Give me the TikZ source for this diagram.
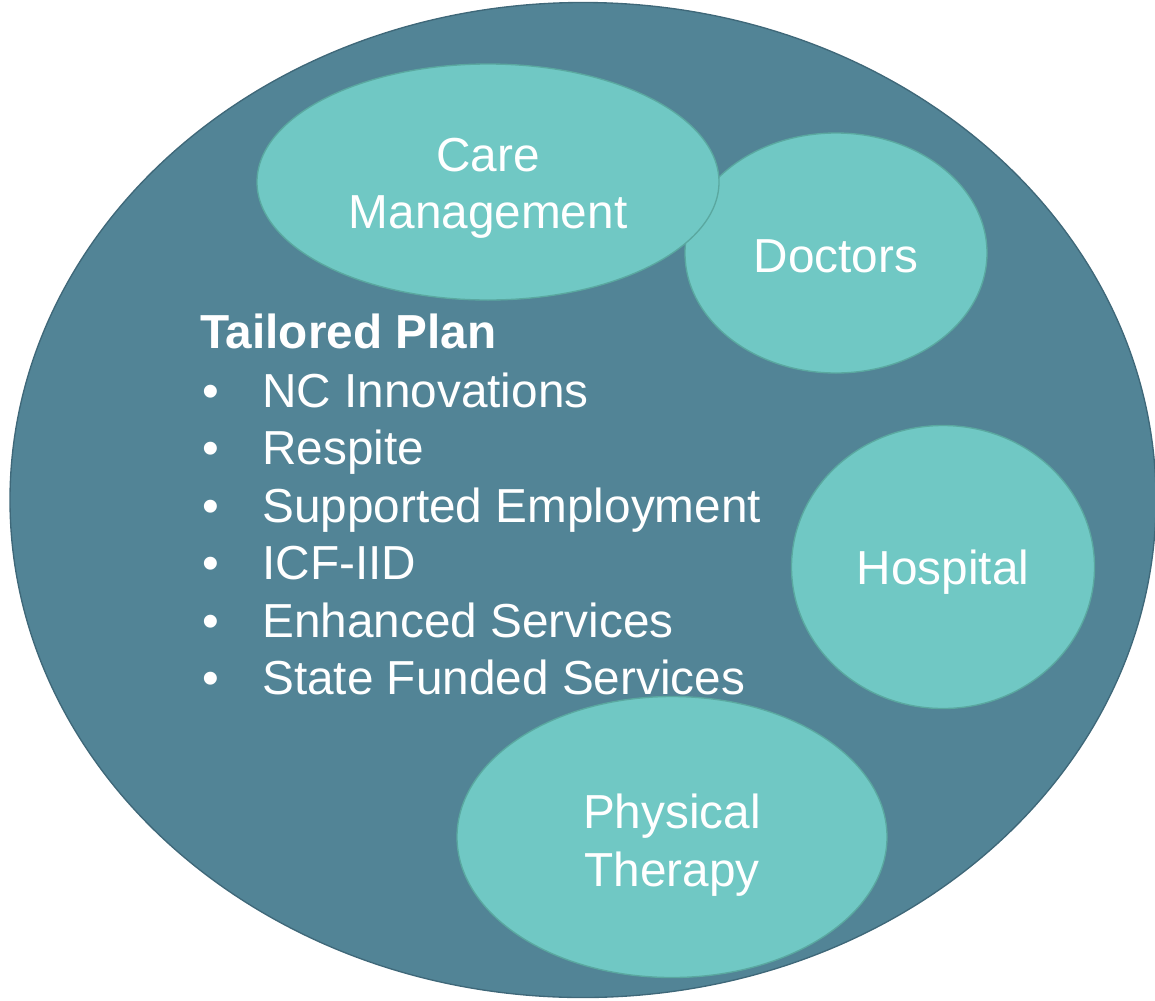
\documentclass[tikz,border=0pt]{standalone}
\usepackage{fontspec}
\setmainfont{Liberation Sans}
\usetikzlibrary{shapes.geometric}

\definecolor{planfill}{HTML}{528496}
\definecolor{plandraw}{HTML}{3F6879}
\definecolor{servicefill}{HTML}{70C8C4}
\definecolor{servicedraw}{HTML}{5AA8A0}

\begin{document}
\begin{tikzpicture} [x=0.75pt, y=-0.75pt,
		% define styles
		plannodestyle/.style={
			% The shape:
			ellipse,
			inner sep=0pt,
			% The border:
			line width=1pt,
			draw=plandraw,
			% The filling:
			fill=planfill
		},
		servicenodestyle/.style={
			% The shape:
			ellipse,
			inner sep=0pt,
			% The border:
			line width=1pt,
			draw=servicedraw,
			% The filling:
			fill=servicefill
		},
		servicetextstyle/.style={
			inner sep=0pt,
			text=white,
			align=center,
			font=\fontsize{35.8}{43}\selectfont
		},
		listnodestyle/.style={
			anchor=base west,
			inner sep=0pt,
			text=white,
			font=\fontsize{35.8}{43}\selectfont
		}]
		% end of style definition
		
		\useasboundingbox (0,0) rectangle (1155,1000);
		
		% draw nodes
		\node (iPlan) [plannodestyle, minimum width=859.5pt, minimum height=746.25pt] at (583,500) {};
		
		\node (iDoctors) [servicenodestyle, minimum width=226.5pt, minimum height=180pt] at (836,253) {};
		\node (iCare) [servicenodestyle, minimum width=346.5pt, minimum height=177pt] at (488,182) {};
		\node (iHospital) [servicenodestyle, minimum width=227.25pt, minimum height=212.25pt] at (943,567) {};
		\node (iTherapy) [servicenodestyle, minimum width=322.5pt, minimum height=210.75pt] at (672,837) {};
		
		% labels of the services
		\node (iDoctorsText) [servicetextstyle, yshift=-2.5pt] at (iDoctors) {Doctors};
		\node (iCareText) [servicetextstyle, yshift=-4.5pt] at (iCare) {Care\\Management};
		\node (iHospitalText) [servicetextstyle, yshift=-4pt] at (iHospital) {Hospital};
		\node (iTherapyText) [servicetextstyle, yshift=-6pt] at (iTherapy) {Physical\\Therapy};
		
		% list of services
		\node (iTitle) [listnodestyle, font=\fontsize{35.8}{43}\selectfont\bfseries] at (200,348) {Tailored Plan};
		\foreach \i/\txt in {1/NC Innovations, 2/Respite, 3/Supported Employment, 4/ICF-IID, 5/Enhanced Services, 6/State Funded Services} {
			\node (iBullet\i) [listnodestyle] at (202,349.5+57.5*\i) {\textbullet};
			\node (iItem\i) [listnodestyle] at (262,349.5+57.5*\i) {\txt};
		}
	\end{tikzpicture}
\end{document}
